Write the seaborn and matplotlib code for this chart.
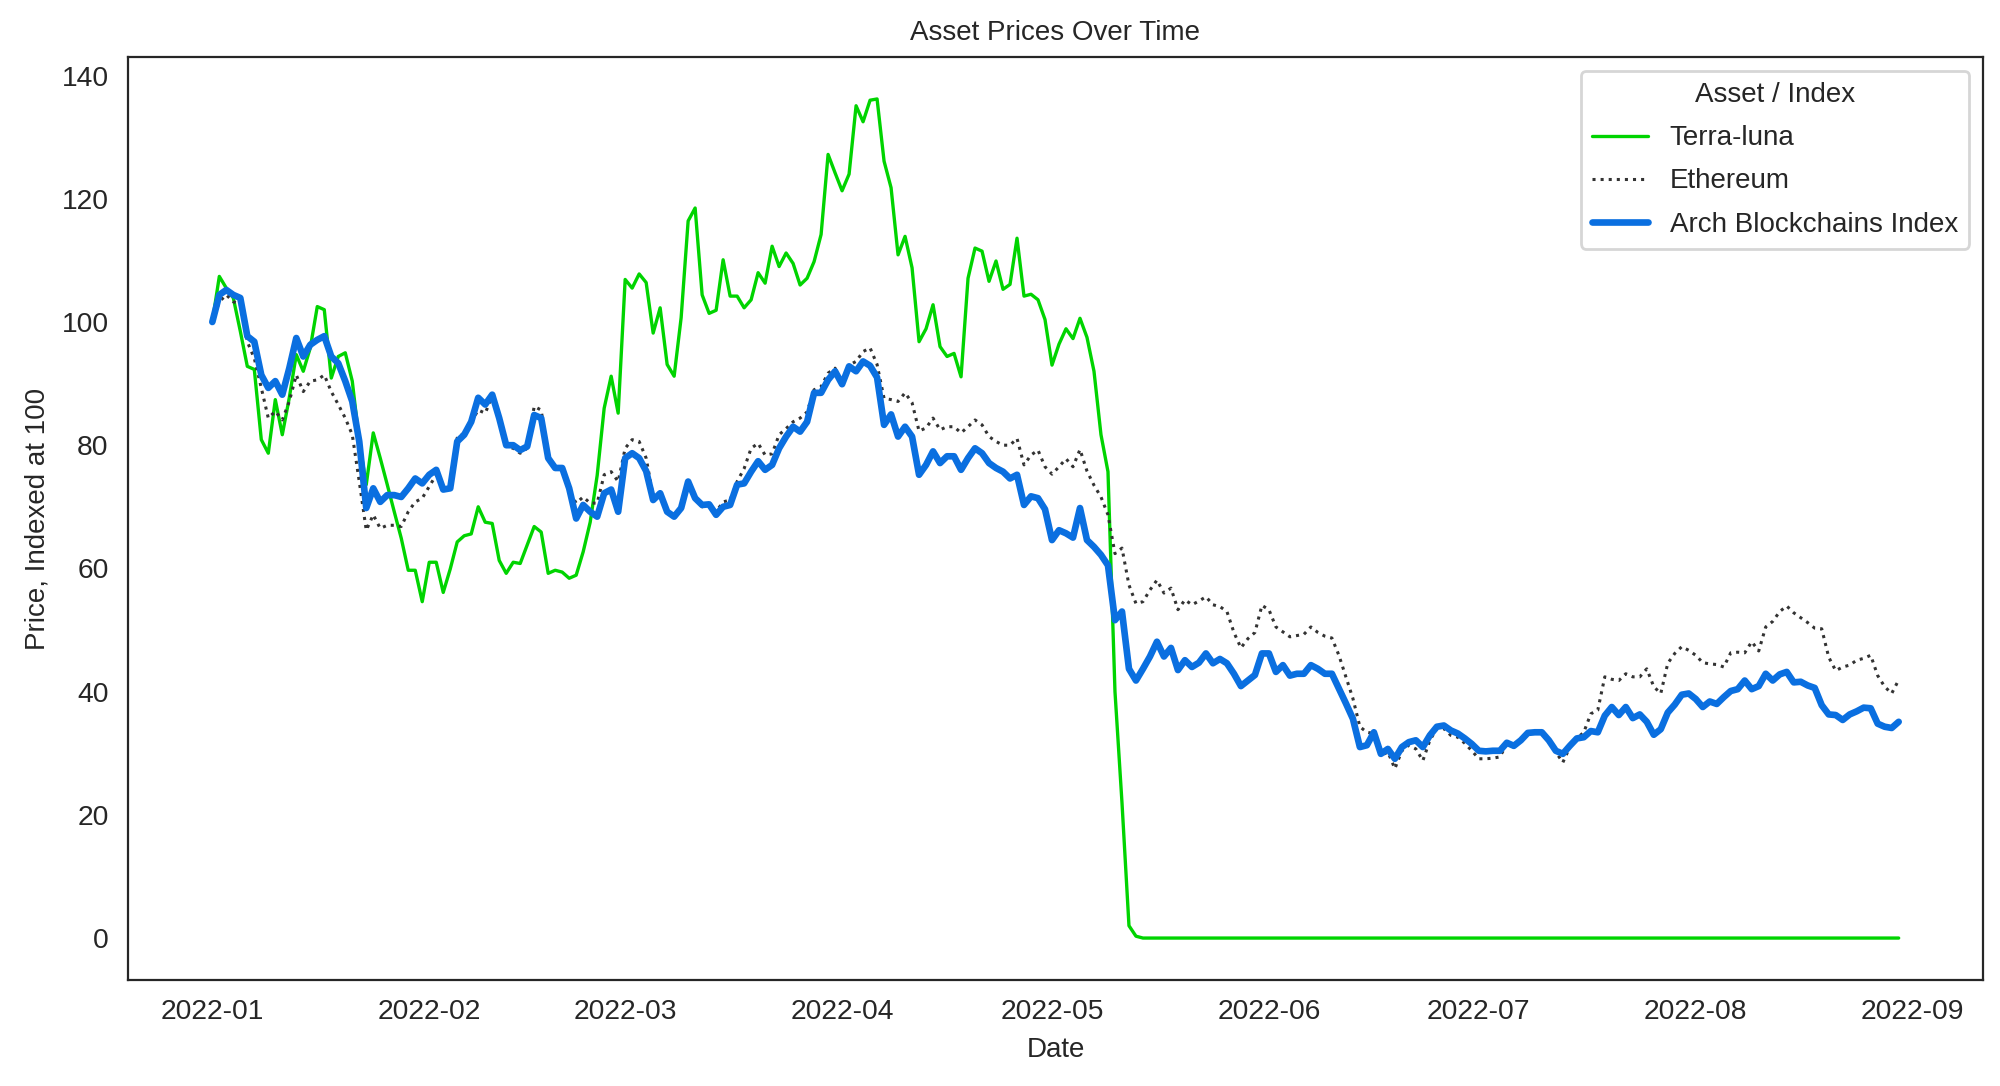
"""
Asset Prices Over Time
======================
Terra-luna vs Ethereum vs Arch Blockchains Index, daily, indexed at 100 on 2022-01-01.
"""

import matplotlib
matplotlib.use("Agg")
import matplotlib.pyplot as plt
import matplotlib.dates as mdates
import pandas as pd
import seaborn as sns

START_DATE = "2022-01-01"

# daily values, 2022-01-01 .. 2022-08-30
terra_luna = [
    100.0, 107.4, 105.5, 103.9, 98.5, 92.8, 92.3, 80.9, 78.7, 87.4,
    81.7, 87.7, 94.7, 92.0, 95.8, 102.5, 102.0, 90.9, 94.4, 95.0,
    90.4, 80.6, 73.6, 82.0, 77.9, 73.6, 69.2, 64.9, 59.7, 59.7,
    54.6, 61.0, 61.0, 56.1, 59.9, 64.3, 65.3, 65.6, 70.0, 67.5,
    67.3, 61.3, 59.2, 61.0, 60.8, 63.8, 66.8, 65.9, 59.2, 59.7,
    59.4, 58.4, 58.9, 62.7, 67.5, 75.1, 86.0, 91.2, 85.2, 106.9,
    105.5, 107.8, 106.4, 98.2, 102.3, 93.1, 91.2, 100.7, 116.4, 118.5,
    104.4, 101.4, 101.9, 110.1, 104.2, 104.2, 102.3, 103.6, 108.0, 106.3,
    112.3, 109.0, 111.2, 109.5, 106.0, 107.1, 109.8, 114.2, 127.2, 124.2,
    121.3, 124.0, 135.1, 132.5, 136.0, 136.2, 126.1, 121.8, 110.9, 113.9,
    108.8, 96.8, 98.9, 102.8, 96.0, 94.4, 94.9, 91.1, 107.1, 112.0,
    111.5, 106.6, 109.9, 105.3, 106.1, 113.6, 104.2, 104.5, 103.6, 100.4,
    93.0, 96.4, 98.9, 97.3, 100.6, 97.5, 92.0, 81.7, 75.7, 40.0,
    22.0, 2.0, 0.3,
    0.0, 0.0, 0.0, 0.0, 0.0, 0.0, 0.0, 0.0, 0.0, 0.0,
    0.0, 0.0, 0.0, 0.0, 0.0, 0.0, 0.0, 0.0, 0.0, 0.0,
    0.0, 0.0, 0.0, 0.0, 0.0, 0.0, 0.0, 0.0, 0.0, 0.0,
    0.0, 0.0, 0.0, 0.0, 0.0, 0.0, 0.0, 0.0, 0.0, 0.0,
    0.0, 0.0, 0.0, 0.0, 0.0, 0.0, 0.0, 0.0, 0.0, 0.0,
    0.0, 0.0, 0.0, 0.0, 0.0, 0.0, 0.0, 0.0, 0.0, 0.0,
    0.0, 0.0, 0.0, 0.0, 0.0, 0.0, 0.0, 0.0, 0.0, 0.0,
    0.0, 0.0, 0.0, 0.0, 0.0, 0.0, 0.0, 0.0, 0.0, 0.0,
    0.0, 0.0, 0.0, 0.0, 0.0, 0.0, 0.0, 0.0, 0.0, 0.0,
    0.0, 0.0, 0.0, 0.0, 0.0, 0.0, 0.0, 0.0, 0.0, 0.0,
    0.0, 0.0, 0.0, 0.0, 0.0, 0.0, 0.0, 0.0, 0.0,
]

ethereum = [
    100.0, 103.3, 104.4, 103.3, 102.8, 96.8, 94.1, 89.3, 84.4, 85.5,
    84.1, 87.1, 91.4, 88.7, 90.4, 90.6, 91.4, 88.7, 86.6, 84.4,
    81.7, 74.1, 66.2, 68.7, 66.5, 67.0, 67.0, 66.8, 69.2, 70.8,
    71.4, 73.3, 75.2, 72.8, 73.0, 81.2, 82.0, 83.8, 85.7, 85.2,
    87.9, 84.6, 79.8, 79.5, 78.7, 79.5, 86.3, 85.7, 77.9, 76.3,
    76.0, 72.5, 70.6, 71.6, 70.6, 70.6, 75.2, 75.7, 74.1, 79.5,
    80.9, 80.6, 77.9, 71.7, 71.9, 69.2, 68.7, 70.0, 74.1, 71.4,
    70.0, 70.3, 69.2, 70.8, 71.1, 74.1, 76.2, 79.5, 80.3, 78.4,
    78.6, 81.7, 82.7, 83.8, 84.4, 85.4, 89.0, 89.5, 91.7, 92.5,
    90.1, 93.0, 93.6, 95.2, 95.8, 93.1, 87.6, 87.4, 87.1, 88.5,
    86.9, 82.3, 82.8, 84.4, 82.5, 83.0, 83.0, 82.0, 83.0, 84.1,
    83.3, 81.4, 80.6, 80.0, 80.0, 81.1, 76.8, 78.4, 79.2, 76.5,
    75.3, 76.5, 77.8, 76.5, 79.3, 75.8, 73.5, 71.6, 68.7, 62.4,
    63.3, 57.3, 54.3, 54.6, 56.5, 58.1, 56.0, 56.8, 53.3, 54.9,
    54.1, 54.7, 55.4, 54.1, 53.8, 53.0, 49.6, 47.1, 48.6, 49.6,
    54.0, 53.3, 50.5, 49.7, 48.9, 49.1, 49.3, 50.5, 49.6, 49.0,
    48.7, 45.9, 42.4, 38.9, 34.3, 33.4, 33.2, 29.6, 30.2, 27.5,
    30.4, 31.3, 30.7, 28.8, 32.1, 34.0, 34.0, 32.9, 32.6, 31.6,
    30.4, 29.1, 29.1, 29.2, 29.4, 31.5, 31.0, 32.1, 33.4, 33.4,
    33.2, 31.8, 30.2, 28.5, 31.0, 32.4, 33.4, 36.4, 37.0, 42.4,
    42.0, 41.8, 42.9, 42.4, 42.4, 43.7, 40.8, 39.7, 44.6, 46.2,
    47.3, 46.7, 45.9, 44.7, 44.5, 44.4, 44.0, 46.3, 46.4, 46.3,
    48.1, 46.6, 50.5, 51.4, 53.0, 53.9, 52.8, 52.0, 51.2, 50.3,
    50.2, 45.6, 43.4, 44.0, 44.3, 45.1, 45.4, 45.9, 42.6, 40.8,
    39.7, 41.9,
]

arch_index = [
    100.0, 104.4, 105.2, 104.4, 103.9, 97.7, 96.8, 91.4, 89.3, 90.4,
    88.2, 92.5, 97.4, 94.4, 96.3, 97.1, 97.7, 94.4, 93.3, 90.4,
    87.1, 80.6, 69.8, 73.0, 70.8, 71.9, 71.9, 71.6, 73.0, 74.6,
    73.8, 75.2, 76.0, 72.8, 73.0, 80.6, 81.7, 83.8, 87.7, 86.6,
    88.2, 84.4, 80.0, 80.0, 79.2, 79.8, 84.9, 84.4, 77.9, 76.3,
    76.3, 73.0, 68.1, 70.3, 69.2, 68.4, 72.2, 72.8, 69.2, 77.9,
    78.7, 77.9, 75.8, 71.1, 72.2, 69.2, 68.4, 69.8, 74.1, 71.4,
    70.3, 70.4, 68.7, 70.0, 70.3, 73.6, 73.8, 75.7, 77.4, 76.0,
    76.8, 79.5, 81.4, 83.0, 82.2, 83.8, 88.5, 88.5, 90.6, 92.0,
    89.9, 92.8, 92.0, 93.6, 92.9, 91.0, 83.3, 85.0, 81.4, 83.0,
    81.4, 75.2, 76.8, 79.0, 77.1, 78.2, 78.2, 76.0, 77.9, 79.5,
    78.7, 77.1, 76.3, 75.7, 74.6, 75.2, 70.3, 71.7, 71.4, 69.6,
    64.6, 66.2, 65.7, 65.0, 69.8, 64.6, 63.5, 62.2, 60.5, 51.6,
    53.0, 43.7, 41.8, 43.7, 45.7, 48.1, 45.7, 47.1, 43.5, 45.1,
    44.0, 44.7, 46.2, 44.6, 45.3, 44.6, 42.9, 40.9, 41.8, 42.7,
    46.2, 46.2, 43.2, 44.3, 42.6, 42.9, 42.9, 44.3, 43.7, 42.9,
    42.9, 40.5, 38.1, 35.6, 31.0, 31.3, 33.4, 29.9, 30.7, 29.1,
    31.0, 31.8, 32.1, 31.0, 32.9, 34.3, 34.5, 33.7, 33.2, 32.4,
    31.5, 30.4, 30.3, 30.4, 30.4, 31.7, 31.2, 32.1, 33.3, 33.4,
    33.4, 32.1, 30.4, 29.9, 31.2, 32.4, 32.6, 33.6, 33.4, 36.1,
    37.5, 36.2, 37.5, 35.7, 36.3, 35.1, 33.0, 33.9, 36.6, 37.9,
    39.5, 39.7, 38.8, 37.5, 38.4, 38.0, 39.1, 40.1, 40.4, 41.8,
    40.4, 40.9, 42.9, 41.8, 42.8, 43.2, 41.5, 41.6, 41.0, 40.6,
    37.8, 36.3, 36.2, 35.4, 36.3, 36.8, 37.4, 37.3, 34.8, 34.3,
    34.1, 35.1,
]

assert len(terra_luna) == len(ethereum) == len(arch_index)

dates = pd.date_range(START_DATE, periods=len(arch_index), freq="D")

sns.set_style("white")
plt.rcParams["font.family"] = ["Liberation Sans", "DejaVu Sans"]
plt.rcParams["axes.edgecolor"] = "0.15"

fig, ax = plt.subplots(figsize=(10, 5.43), dpi=200)
fig.subplots_adjust(left=0.064, right=0.9915, top=0.9475, bottom=0.0976)

sns.lineplot(x=dates, y=terra_luna, ax=ax, label="Terra-luna",
             color="#00d400", linewidth=1.2)
sns.lineplot(x=dates, y=ethereum, ax=ax, label="Ethereum",
             color="#333333", linewidth=1.1, linestyle=":")
sns.lineplot(x=dates, y=arch_index, ax=ax, label="Arch Blockchains Index",
             color="#0a6fe0", linewidth=2.4)

ax.xaxis.set_major_locator(mdates.MonthLocator())
ax.xaxis.set_major_formatter(mdates.DateFormatter("%Y-%m"))
ax.tick_params(labelsize=10.2)

ax.set_title("Asset Prices Over Time", fontsize=10)
ax.set_xlabel("Date", fontsize=10)
ax.set_ylabel("Price, Indexed at 100", fontsize=10)

leg = ax.legend(title="Asset / Index", loc="upper right", fontsize=10,
                title_fontsize=10, labelspacing=0.62)

fig.savefig("out.png", dpi=200)
plt.close(fig)
